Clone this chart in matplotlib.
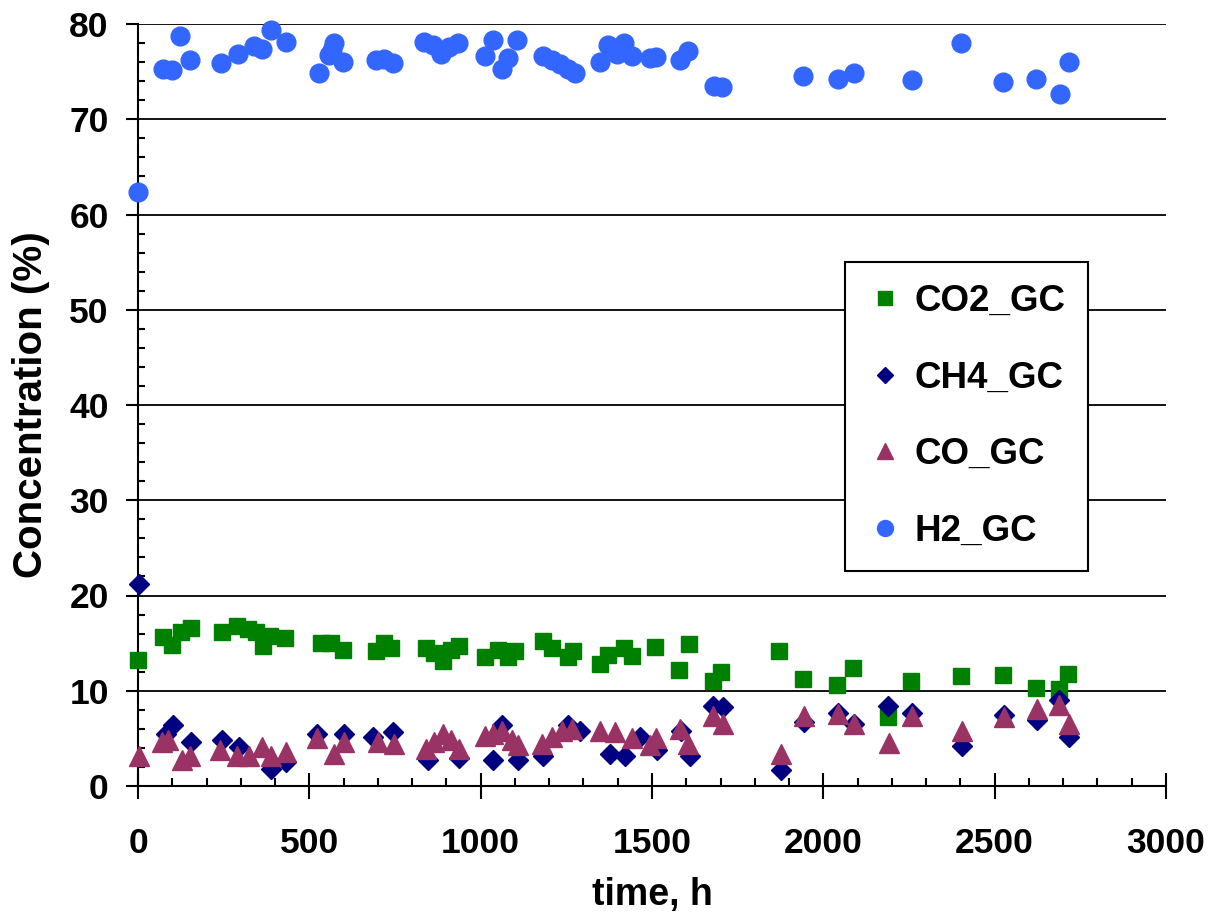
import matplotlib
matplotlib.use("Agg")
import matplotlib.pyplot as plt
from matplotlib.ticker import MultipleLocator

plt.rcParams['font.family'] = ['Liberation Sans', 'DejaVu Sans']

# ---- data ----
h2_t = [0, 74, 99, 123, 152, 242, 292, 338, 362, 387, 431, 528, 558, 567, 572, 597,
        694, 719, 743, 836, 860, 885, 909, 934, 1012, 1036, 1061, 1080, 1106,
        1183, 1207, 1231, 1256, 1275, 1349, 1373, 1398, 1417, 1441, 1495,
        1512, 1581, 1606, 1681, 1704, 1940, 2044, 2089, 2260, 2401, 2525, 2622, 2690, 2716]
h2_v = [62.4, 75.3, 75.2, 78.7, 76.2, 75.9, 76.9, 77.7, 77.4, 79.4, 78.1, 74.9, 76.7, 77.3, 78.0, 76.0,
        76.2, 76.3, 75.9, 78.1, 77.8, 76.9, 77.6, 78.0, 76.6, 78.3, 75.3, 76.4, 78.3,
        76.6, 76.2, 75.8, 75.3, 74.9, 76.0, 77.8, 76.9, 78.0, 76.6, 76.4,
        76.5, 76.2, 77.2, 73.5, 73.4, 74.5, 74.2, 74.9, 74.1, 78.0, 73.9, 74.2, 72.7, 76.0]

co2_t = [0, 74, 100, 125, 155, 245, 290, 320, 345, 365, 385, 430, 533, 562, 597,
         694, 719, 738, 841, 865, 890, 914, 938, 1012, 1051, 1080, 1100,
         1183, 1207, 1256, 1270, 1349, 1373, 1417, 1441, 1510,
         1579, 1608, 1678, 1701, 1870, 1941, 2041, 2087, 2188, 2257, 2403, 2525, 2622, 2688, 2713]
co2_v = [13.2, 15.6, 14.8, 16.2, 16.6, 16.2, 16.8, 16.5, 16.2, 14.7, 15.8, 15.5, 15.0, 15.0, 14.3,
         14.2, 15.0, 14.5, 14.5, 14.0, 13.1, 14.3, 14.7, 13.5, 14.3, 13.5, 14.2,
         15.2, 14.5, 13.5, 14.2, 12.8, 13.8, 14.5, 13.6, 14.6,
         12.2, 14.9, 11.0, 12.0, 14.2, 11.2, 10.6, 12.4, 7.2, 11.0, 11.5, 11.7, 10.3, 10.2, 11.8]

ch4_t = [4, 82, 102, 155, 245, 294, 387, 431, 523, 602, 685, 743, 846, 938, 1036, 1061, 1109,
         1183, 1256, 1290, 1378, 1422, 1466, 1515, 1584, 1611, 1678, 1706, 1875, 1943,
         2044, 2089, 2190, 2260, 2404, 2527, 2624, 2689, 2716]
ch4_v = [21.2, 5.5, 6.4, 4.6, 4.8, 4.1, 1.8, 2.5, 5.5, 5.5, 5.1, 5.7, 2.7, 2.9, 2.7, 6.4, 2.7,
         3.2, 6.4, 5.8, 3.4, 3.1, 5.1, 3.75, 5.8, 3.1, 8.4, 8.3, 1.7, 6.7,
         7.7, 6.5, 8.4, 7.7, 4.2, 7.5, 6.9, 9.0, 5.1]

co_t = [4, 69, 89, 128, 152, 240, 289, 323, 362, 387, 431, 523, 572, 602, 699, 748,
        841, 865, 890, 914, 938, 1012, 1036, 1061, 1090, 1109, 1178, 1207, 1236, 1266,
        1349, 1393, 1441, 1495, 1513, 1581, 1606, 1678, 1706, 1875, 1943,
        2044, 2089, 2192, 2260, 2404, 2527, 2624, 2689, 2716]
co_v = [3.2, 4.6, 4.8, 2.7, 3.1, 3.8, 3.1, 3.1, 4.1, 3.1, 3.6, 5.0, 3.4, 4.6, 4.6, 4.4,
        3.9, 4.6, 5.5, 4.8, 3.9, 5.3, 5.5, 5.8, 4.8, 4.3, 4.4, 5.1, 5.8, 6.0,
        5.8, 5.7, 5.0, 4.3, 5.0, 6.0, 4.4, 7.4, 6.5, 3.4, 7.3,
        7.6, 6.5, 4.5, 7.4, 5.8, 7.2, 8.1, 8.5, 6.5]

labels = ['CO2_GC', 'CH4_GC', 'CO_GC', 'H2_GC']
x_ticks = [0, 500, 1000, 1500, 2000, 2500, 3000]
y_ticks = [0, 10, 20, 30, 40, 50, 60, 70, 80]

# ---- figure ----
W, H = 1211, 917
fig = plt.figure(figsize=(W / 100, H / 100), dpi=100)
ax = fig.add_axes([138 / W, 1 - 786 / H, (1166 - 138) / W, (786 - 24) / H])

ax.plot(co2_t, co2_v, ls='none', marker='s', ms=11.5, color='#008000', mec='#008000',
        label=labels[0], clip_on=False, zorder=3)
ax.plot(ch4_t, ch4_v, ls='none', marker='D', ms=10, color='#000080', mec='#000080',
        label=labels[1], clip_on=False, zorder=3)
ax.plot(co_t, co_v, ls='none', marker='^', ms=14, color='#993366', mec='#993366',
        label=labels[2], clip_on=False, zorder=3)
ax.plot(h2_t, h2_v, ls='none', marker='o', ms=13.5, color='#3366FF', mec='#3366FF',
        label=labels[3], clip_on=False, zorder=3)

ax.set_xlim(0, 3000)
ax.set_ylim(0, 80)
ax.set_xticks(x_ticks)
ax.set_yticks(y_ticks)
ax.xaxis.set_minor_locator(MultipleLocator(100))
ax.yaxis.set_minor_locator(MultipleLocator(2))

for s in ['top', 'right']:
    ax.spines[s].set_visible(False)
for s in ['left', 'bottom']:
    ax.spines[s].set_linewidth(1.5)
    ax.spines[s].set_color('black')

ax.yaxis.grid(True, which='major', color='black', lw=1.3)
ax.set_axisbelow(True)

ax.tick_params(axis='x', which='major', direction='inout', length=19, width=1.5, pad=20,
               labelsize=25.5)
ax.tick_params(axis='x', which='minor', direction='in', length=6, width=1.5)
ax.tick_params(axis='y', which='major', direction='out', length=9, width=1.5, pad=12,
               labelsize=25.5)
ax.tick_params(axis='y', which='minor', direction='in', length=5, width=1.5)
for lab in ax.get_xticklabels() + ax.get_yticklabels():
    lab.set_fontweight('bold')

ax.set_xlabel('time, h', fontsize=27, fontweight='bold', labelpad=12)
ax.set_ylabel('Concentration (%)', fontsize=29, fontweight='bold', labelpad=14)

leg = ax.legend(loc='upper left', bbox_to_anchor=((845 - 138) / 1028, (786 - 262) / 762),
                fontsize=26.5, frameon=True, fancybox=False, framealpha=1,
                edgecolor='black', borderaxespad=0, handlelength=1.0, handletextpad=0.3,
                labelspacing=1.13, borderpad=0.6, markerscale=0.85)
leg.get_frame().set_linewidth(1.5)
for t in leg.get_texts():
    t.set_fontweight('bold')

fig.savefig('out.png', dpi=100)
